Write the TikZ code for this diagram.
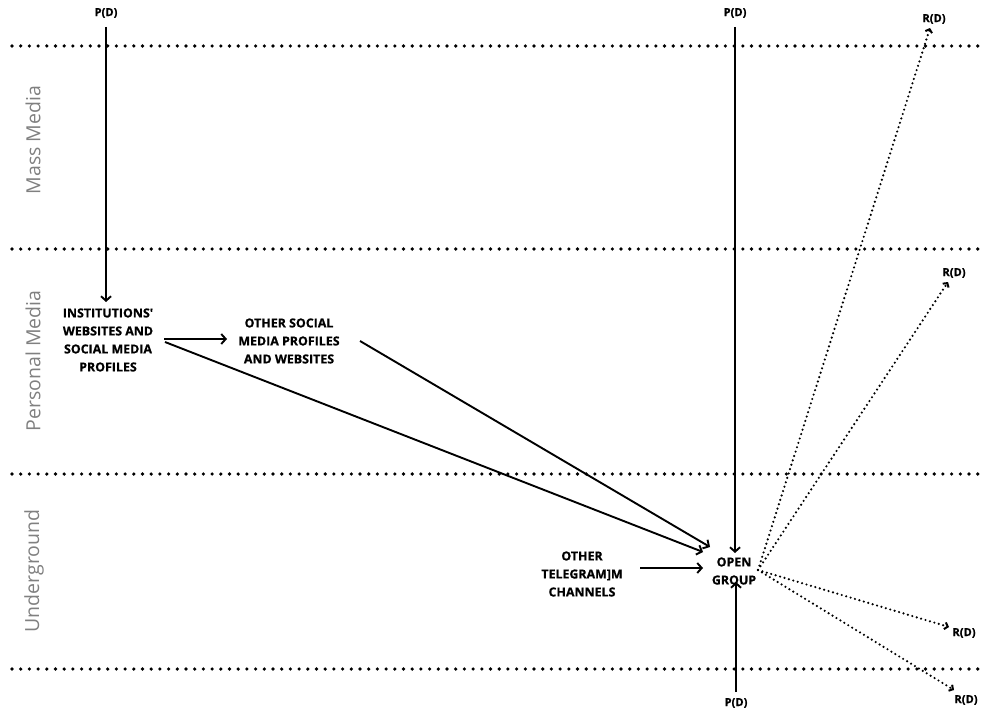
\documentclass[tikz,border=0pt]{standalone}
\usepackage{fontspec}
\setmainfont{Open Sans}
\newfontfamily\heavy[FakeBold=0.7]{Open Sans}
\usetikzlibrary{arrows.meta,calc}
\begin{document}
\begin{tikzpicture}[x=1pt,y=-1pt,
  lbl/.style={font=\heavy\bfseries\fontsize{12.4}{18}\selectfont, align=center, inner sep=0pt},
  pd/.style={font=\heavy\bfseries\fontsize{11.2}{12}\selectfont, inner sep=0pt},
  layer/.style={font=\fontsize{19.5}{24}\selectfont, text=black!50, rotate=90, inner sep=0pt},
  sep/.style={line width=3.6pt, dash pattern=on 0pt off 8.7pt, line cap=round},
  flow/.style={line width=1.9pt, -{Straight Barb[length=4.5pt,width=10pt,line width=1.9pt]}},
  flowd/.style={line width=2.4pt, dash pattern=on 0pt off 4.6pt, line cap=round,
     -{Straight Barb[length=3pt,width=7pt,line width=2pt]}}]
\useasboundingbox (0,0) rectangle (981,711);
% layer separators
\coordinate (l1a) at (12,46);  \coordinate (l1b) at (985,46);
\coordinate (l2a) at (12,249); \coordinate (l2b) at (985,249);
\coordinate (l3a) at (12,474); \coordinate (l3b) at (985,474);
\coordinate (l4a) at (12,669); \coordinate (l4b) at (985,669);
\draw[sep] (l1a) -- (l1b);
\draw[sep] (l2a) -- (l2b);
\draw[sep] (l3a) -- (l3b);
\draw[sep] (l4a) -- (l4b);
% layer labels
\node[layer] (mm) at (33,140) {Mass Media};
\node[layer] (pm) at (33,361) {Personal Media};
\node[layer] (ug) at (34,571) {Underground};
% nodes
\node[pd] (p1) at (106,13) {P(D)};
\node[pd] (p2) at (735,13) {P(D)};
\node[pd] (p3) at (736,703) {P(D)};
\node[lbl] (inst) at (108,340) {INSTITUTIONS'\\WEBSITES AND\\SOCIAL MEDIA\\PROFILES};
\node[lbl] (osm) at (289,341) {OTHER SOCIAL\\MEDIA PROFILES\\AND WEBSITES};
\node[lbl] (otc) at (582,574) {OTHER\\TELEGRAM]M\\CHANNELS};
\node[lbl] (og) at (734,571) {OPEN\\GROUP};
\node[pd] (r1) at (934,19) {R(D)};
\node[pd] (r2) at (954,273) {R(D)};
\node[pd] (r3) at (964,633) {R(D)};
\node[pd] (r4) at (966,700) {R(D)};
% connector ends
\coordinate (p1s) at (106,27);   \coordinate (inst n) at (106,302);
\coordinate (inst e) at (164,339); \coordinate (osm w) at (227,339);
\coordinate (inst se) at (165,342); \coordinate (og w1) at (703,552);
\coordinate (osm e) at (360,341); \coordinate (og w2) at (710,547);
\coordinate (otc e) at (640,568); \coordinate (og w3) at (703,568);
\coordinate (p2s) at (735,27);   \coordinate (og n) at (735,553);
\coordinate (p3n) at (736,692);  \coordinate (og s) at (736,582);
\coordinate (og e) at (758,570);
\coordinate (r1t) at (930,28);
\coordinate (r2t) at (948,282);
\coordinate (r3t) at (949,627);
\coordinate (r4t) at (954,690);
% connectors
\draw[flow] (p1s) -- (inst n);
\draw[flow] (inst e) -- (osm w);
\draw[flow] (inst se) -- (og w1);
\draw[flow] (osm e) -- (og w2);
\draw[flow] (otc e) -- (og w3);
\draw[flow] (p2s) -- (og n);
\draw[flow] (p3n) -- (og s);
\draw[flowd] (og e) -- (r1t);
\draw[flowd] (og e) -- (r2t);
\draw[flowd] (og e) -- (r3t);
\draw[flowd] (og e) -- (r4t);
\end{tikzpicture}
\end{document}
